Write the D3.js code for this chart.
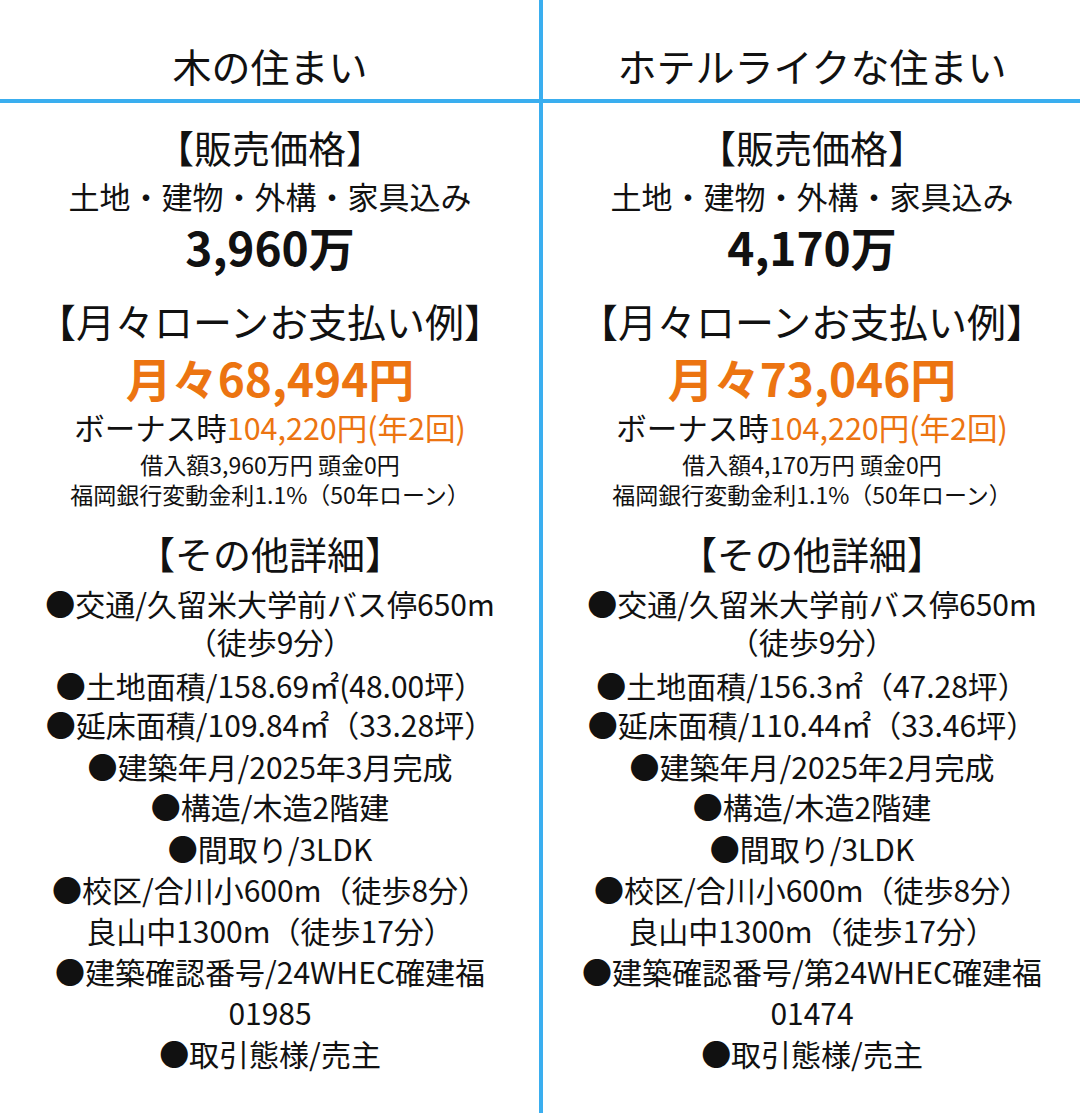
<!DOCTYPE html>
<html><head><meta charset="utf-8">
<script src="https://cdn.jsdelivr.net/npm/d3@7"></script>
<style>body{margin:0;background:#fff}</style>
</head><body><div id="chart"></div>
<script>
const titles = ['木の住まい', 'ホテルライクな住まい'];
const prices = ['3,960万', '4,170万'];
const monthly = ['月々68,494円', '月々73,046円'];
const bonus = ['104,220円(年2回)', '104,220円(年2回)'];
const loans = ['借入額3,960万円 頭金0円', '借入額4,170万円 頭金0円'];
const bank = '福岡銀行変動金利1.1%（50年ローン）';
const detailsLeft = ['●交通/久留米大学前バス停650m', '（徒歩9分）', '●土地面積/158.69㎡(48.00坪）', '●延床面積/109.84㎡（33.28坪）', '●建築年月/2025年3月完成', '●構造/木造2階建', '●間取り/3LDK', '●校区/合川小600m（徒歩8分）', '良山中1300m（徒歩17分）', '●建築確認番号/24WHEC確建福', '01985', '●取引態様/売主'];
const detailsRight = ['●交通/久留米大学前バス停650m', '（徒歩9分）', '●土地面積/156.3㎡（47.28坪）', '●延床面積/110.44㎡（33.46坪）', '●建築年月/2025年2月完成', '●構造/木造2階建', '●間取り/3LDK', '●校区/合川小600m（徒歩8分）', '良山中1300m（徒歩17分）', '●建築確認番号/第24WHEC確建福', '01474', '●取引態様/売主'];
const detailY = [603, 641, 685, 724, 766, 806, 848, 889, 930, 971, 1012, 1053];

const width = 1080, height = 1113;
const blue = '#3aaeef', orange = '#ec7411';
const x = d3.scaleBand().domain([0, 1]).range([0, width]);

const svg = d3.select('#chart').append('svg')
  .attr('width', width).attr('height', height)
  .style('font-family', '"Noto Sans CJK JP", "Noto Sans", sans-serif');

svg.append('line').attr('x1', 0).attr('x2', width).attr('y1', 101).attr('y2', 101)
  .attr('stroke', blue).attr('stroke-width', 4);
svg.append('line').attr('x1', 541).attr('x2', 541).attr('y1', 0).attr('y2', height)
  .attr('stroke', blue).attr('stroke-width', 4);

function txt(g, y, size, s, opts = {}) {
  return g.append('text').attr('x', 0).attr('y', y)
    .attr('text-anchor', 'middle').attr('dominant-baseline', 'central')
    .attr('font-size', size).attr('font-weight', opts.bold ? 700 : 400)
    .attr('fill', opts.fill || '#111').text(s);
}

[0, 1].forEach(i => {
  const g = svg.append('g').attr('transform', `translate(${x(i) + x.bandwidth() / 2 + (i ? 2 : 0)},0)`);
  txt(g, 65, 39, titles[i]);
  txt(g, 146, 38, '【販売価格】');
  txt(g, 195, 31, '土地・建物・外構・家具込み');
  txt(g, 246, 46, prices[i], {bold: true});
  txt(g, 320, 39, '【月々ローンお支払い例】');
  txt(g, 377, 46, monthly[i], {bold: true, fill: orange});
  const b = txt(g, 427, 30.5, '');
  b.append('tspan').text('ボーナス時');
  b.append('tspan').attr('fill', orange).text(bonus[i]);
  txt(g, 464, 23, loans[i]);
  txt(g, 494, 23, bank);
  txt(g, 552, 38, '【その他詳細】');
  (i ? detailsRight : detailsLeft).forEach((d, k) => txt(g, detailY[k], 30, d));
});
</script></body></html>
